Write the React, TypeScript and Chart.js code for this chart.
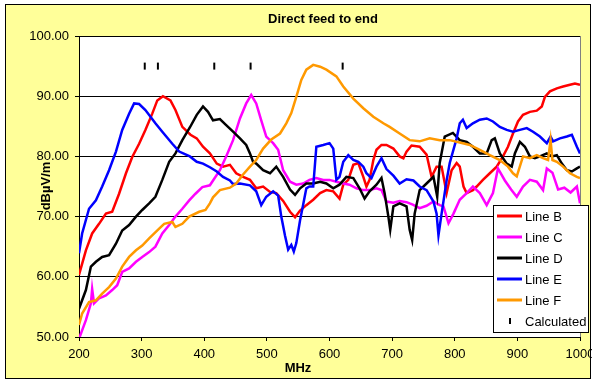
import React, { useEffect, useRef } from "react";
import { Chart, registerables } from "chart.js";

Chart.register(...registerables);

// ---- Data ----
const seriesNames = ["Line B", "Line C", "Line D", "Line E", "Line F"];
const seriesColors = ["#FF0000", "#FF00FF", "#000000", "#0000FF", "#FF9900"];

const bFreq = [200, 211, 221, 232, 243, 253, 264, 275, 285, 296, 306, 317, 325, 334, 346, 354, 365, 378, 388, 398, 409, 420, 430, 441, 451, 462, 473, 483, 494, 505, 515, 526, 537, 545, 553, 563, 574, 585, 595, 606, 616, 622, 630, 638, 646, 654, 659, 664, 670, 675, 683, 691, 702, 712, 718, 723, 731, 744, 755, 763, 771, 779, 787, 795, 803, 808, 814, 819, 829, 835, 845, 856, 867, 877, 885, 893, 901, 909, 920, 931, 939, 944, 952, 963, 973, 984, 992, 1000];
const bVals = [60.3, 64.4, 67.2, 68.8, 70.5, 70.8, 73.8, 77.2, 79.9, 82.1, 84.4, 87.1, 89.3, 90.0, 89.3, 87.7, 84.9, 83.6, 83.0, 81.6, 80.5, 78.8, 78.3, 78.6, 77.2, 76.6, 76.1, 74.7, 75.0, 74.1, 73.9, 72.6, 70.8, 69.9, 71.0, 71.9, 72.8, 73.9, 74.4, 74.2, 73.0, 75.3, 76.1, 78.6, 78.9, 76.6, 75.0, 76.1, 79.4, 81.1, 81.9, 81.9, 81.3, 80.0, 79.7, 80.8, 81.8, 81.6, 80.3, 76.6, 78.3, 78.3, 73.9, 77.7, 78.9, 78.3, 75.0, 73.9, 74.4, 75.0, 76.1, 77.2, 78.3, 80.0, 81.6, 83.8, 85.8, 86.9, 87.4, 87.6, 88.3, 89.9, 90.8, 91.3, 91.6, 91.9, 92.1, 91.9];

const cFreq = [200, 211, 219, 221, 224, 232, 243, 253, 261, 269, 280, 291, 301, 312, 322, 333, 344, 354, 365, 376, 386, 397, 409, 425, 435, 446, 457, 467, 475, 483, 491, 499, 510, 518, 526, 537, 547, 558, 568, 579, 590, 600, 611, 622, 632, 643, 654, 664, 675, 683, 691, 702, 712, 723, 733, 744, 755, 766, 776, 782, 790, 798, 808, 819, 829, 840, 851, 861, 869, 880, 890, 899, 909, 920, 931, 941, 947, 956, 965, 975, 985, 995, 1000];
const cVals = [49.7, 52.8, 55.6, 58.0, 55.6, 56.4, 56.9, 57.8, 58.6, 60.8, 61.4, 62.5, 63.3, 64.1, 65.0, 67.2, 68.6, 70.0, 71.3, 72.7, 73.8, 74.9, 75.2, 77.7, 80.0, 82.7, 86.3, 88.8, 90.2, 88.8, 86.0, 83.3, 82.2, 81.1, 77.7, 75.8, 75.3, 75.5, 76.1, 76.4, 76.1, 76.1, 75.8, 75.5, 75.3, 74.7, 74.4, 74.4, 74.7, 74.4, 72.5, 72.3, 72.6, 72.4, 72.0, 71.4, 71.8, 72.5, 71.9, 71.7, 68.9, 70.5, 72.8, 73.9, 75.0, 73.9, 71.9, 73.9, 78.0, 76.0, 74.5, 73.3, 75.0, 76.1, 75.8, 74.4, 78.0, 77.3, 74.5, 74.8, 74.0, 75.0, 72.2];

const dFreq = [200, 211, 219, 227, 237, 248, 259, 269, 280, 291, 301, 312, 322, 333, 344, 354, 365, 377, 388, 398, 406, 414, 425, 435, 446, 457, 467, 473, 478, 483, 494, 505, 515, 526, 537, 545, 553, 563, 574, 585, 595, 606, 616, 627, 638, 648, 656, 664, 675, 683, 688, 694, 697, 702, 712, 723, 728, 732, 736, 744, 755, 766, 772, 776, 784, 797, 808, 819, 829, 840, 851, 859, 864, 872, 883, 891, 896, 904, 912, 920, 928, 936, 947, 955, 963, 971, 979, 987, 995, 1000];
const dVals = [54.7, 57.8, 61.7, 62.5, 63.3, 63.6, 65.5, 67.7, 68.6, 70.0, 71.1, 72.2, 73.3, 76.1, 79.1, 80.5, 82.7, 84.8, 86.9, 88.3, 87.4, 86.0, 86.2, 85.2, 84.1, 83.0, 81.9, 80.5, 79.1, 78.8, 77.7, 77.2, 78.3, 76.6, 74.5, 73.6, 74.7, 75.5, 75.5, 75.8, 75.5, 74.7, 75.3, 76.6, 76.4, 74.7, 73.0, 74.2, 75.3, 76.4, 73.9, 70.0, 67.8, 71.7, 72.2, 71.7, 67.8, 66.1, 70.5, 74.4, 75.5, 76.6, 73.3, 78.9, 83.3, 83.9, 82.7, 82.4, 81.6, 80.5, 80.5, 82.7, 83.0, 80.5, 78.8, 78.3, 80.5, 82.4, 81.6, 80.0, 79.7, 80.0, 80.5, 80.0, 80.2, 78.8, 77.7, 77.5, 78.0, 78.3];

const eFreq = [200, 205, 216, 227, 237, 248, 259, 269, 280, 288, 296, 306, 322, 333, 349, 360, 377, 388, 398, 409, 420, 430, 441, 446, 457, 473, 483, 491, 499, 510, 518, 523, 529, 534, 539, 543, 547, 553, 558, 563, 568, 574, 579, 590, 600, 606, 611, 616, 622, 630, 638, 646, 654, 659, 667, 675, 683, 691, 702, 712, 723, 734, 744, 755, 766, 771, 774, 779, 787, 792, 803, 808, 813, 819, 829, 840, 851, 861, 872, 883, 893, 904, 915, 925, 936, 947, 953, 957, 968, 979, 987, 995, 1000];
const eVals = [63.9, 67.2, 71.3, 72.7, 75.0, 77.7, 80.8, 84.4, 87.1, 88.8, 88.7, 87.7, 85.5, 84.1, 82.1, 80.8, 80.0, 79.1, 78.8, 78.2, 77.5, 76.6, 76.0, 75.4, 75.5, 75.2, 74.2, 71.9, 73.3, 74.2, 73.5, 70.0, 66.8, 64.5, 65.3, 64.2, 65.6, 69.4, 72.0, 74.7, 75.0, 75.0, 81.6, 81.9, 82.2, 81.3, 76.1, 76.6, 79.1, 80.2, 79.4, 79.1, 78.3, 77.2, 76.4, 78.3, 79.7, 77.9, 76.8, 75.5, 76.2, 76.0, 75.0, 74.4, 72.5, 70.5, 66.9, 70.5, 76.0, 78.9, 83.0, 85.5, 86.1, 84.7, 85.5, 86.1, 86.3, 85.8, 84.9, 84.4, 84.1, 84.4, 84.7, 84.1, 83.3, 82.2, 83.3, 82.5, 83.0, 83.3, 83.6, 81.6, 80.5];

const fFreq = [200, 205, 216, 227, 237, 248, 259, 269, 280, 291, 301, 312, 328, 336, 349, 354, 365, 376, 392, 402, 409, 414, 425, 441, 451, 462, 473, 483, 494, 507, 521, 531, 539, 547, 555, 563, 574, 585, 595, 611, 622, 638, 654, 670, 686, 696, 712, 728, 744, 760, 776, 792, 808, 824, 840, 856, 872, 885, 893, 899, 909, 920, 931, 941, 949, 953, 956, 963, 973, 984, 995, 1000];
const fVals = [52.0, 53.9, 55.8, 56.1, 57.2, 58.3, 59.7, 61.7, 63.3, 64.4, 65.2, 66.4, 68.0, 68.8, 69.1, 68.3, 68.8, 70.0, 70.8, 71.1, 72.2, 73.2, 74.4, 74.8, 75.5, 77.0, 78.3, 79.4, 81.3, 82.8, 83.8, 85.5, 87.2, 89.9, 92.7, 94.4, 95.2, 94.9, 94.4, 93.3, 91.6, 89.6, 88.0, 86.6, 85.5, 84.9, 83.8, 82.7, 82.5, 83.0, 82.7, 82.7, 82.3, 81.9, 81.1, 80.2, 79.4, 78.3, 77.2, 76.7, 80.0, 79.7, 80.2, 79.7, 79.4, 82.7, 79.4, 79.1, 78.3, 77.2, 76.6, 76.4];

const calcName = "Calculated";
const calcFreq = [305, 326, 416, 474, 621];
const calcVals = [95, 95, 95, 95, 95];

const xTickValues = [200, 300, 400, 500, 600, 700, 800, 900, 1000];
const yTickValues = [50, 60, 70, 80, 90, 100];

const titleText = "Direct feed to end";
const xTitle = "MHz";
const yTitle = "dBµV/m";

const FONT = "'Liberation Sans', Arial, sans-serif";

const allFreq = [bFreq, cFreq, dFreq, eFreq, fFreq];
const allVals = [bVals, cVals, dVals, eVals, fVals];

const decorPlugin = {
  id: "decor",
  beforeDraw(chart: any) {
    const { ctx, chartArea: a } = chart;
    ctx.save();
    ctx.fillStyle = "#FFFFFF";
    ctx.fillRect(0, 0, chart.width, chart.height);
    ctx.fillStyle = "#FFFF99";
    ctx.fillRect(6, 5, 584, 374);
    ctx.strokeStyle = "#000000";
    ctx.lineWidth = 1;
    ctx.strokeRect(5.5, 4.5, 585, 374);
    ctx.fillStyle = "#FFFFFF";
    ctx.fillRect(a.left, a.top, a.right - a.left, a.bottom - a.top);
    ctx.restore();
  },
  afterDraw(chart: any) {
    const { ctx, chartArea: a } = chart;
    ctx.save();
    // right border of plot area
    ctx.strokeStyle = "#808080";
    ctx.lineWidth = 1;
    ctx.beginPath();
    ctx.moveTo(Math.round(a.right) + 0.5, a.top);
    ctx.lineTo(Math.round(a.right) + 0.5, a.bottom);
    ctx.stroke();

    // titles
    ctx.fillStyle = "#000000";
    ctx.textAlign = "center";
    ctx.textBaseline = "middle";
    ctx.font = `bold 13px ${FONT}`;
    ctx.fillText(titleText, 323, 19);
    ctx.fillText(xTitle, 298, 368);
    ctx.save();
    ctx.translate(46, 186);
    ctx.rotate(-Math.PI / 2);
    ctx.fillText(yTitle, 0, 0);
    ctx.restore();

    // legend
    const lx = 493, ly = 205, lw = 95, lh = 127;
    ctx.fillStyle = "#FFFFFF";
    ctx.fillRect(lx, ly, lw, lh);
    ctx.strokeStyle = "#000000";
    ctx.strokeRect(lx + 0.5, ly + 0.5, lw, lh);
    ctx.font = `13px ${FONT}`;
    ctx.textAlign = "left";
    ctx.textBaseline = "middle";
    chart.data.datasets.forEach((ds: any, i: number) => {
      const y = 216 + i * 21;
      if (ds.showLine === false) {
        ctx.strokeStyle = "#000000";
        ctx.lineWidth = 2;
        ctx.beginPath();
        ctx.moveTo(510, y - 3);
        ctx.lineTo(510, y + 3);
        ctx.stroke();
      } else {
        ctx.strokeStyle = ds.borderColor;
        ctx.lineWidth = 3;
        ctx.beginPath();
        ctx.moveTo(497, y);
        ctx.lineTo(522, y);
        ctx.stroke();
      }
      ctx.fillStyle = "#000000";
      ctx.fillText(ds.label, 525, y + 1);
    });
    ctx.restore();
  },
};

export default function App() {
  const ref = useRef<HTMLCanvasElement>(null);

  useEffect(() => {
    if (!ref.current) return;
    const lineSets = seriesNames.map((name, i) => ({
      label: name,
      data: allFreq[i].map((f, j) => ({ x: f, y: allVals[i][j] })),
      borderColor: seriesColors[i],
      backgroundColor: seriesColors[i],
      borderWidth: 2.5,
      pointRadius: 0,
      tension: 0,
      fill: false,
      order: seriesNames.length - i,
    }));
    const calcSet = {
      label: calcName,
      data: calcFreq.map((f, j) => ({ x: f, y: calcVals[j] })),
      showLine: false,
      borderColor: "#000000",
      backgroundColor: "#000000",
      borderWidth: 2,
      pointStyle: "line",
      rotation: 90,
      pointRadius: 3.5,
      order: 0,
    };
    const chart = new Chart(ref.current, {
      type: "line",
      data: { datasets: [...lineSets, calcSet] as any },
      options: {
        animation: false,
        responsive: false,
        devicePixelRatio: 1,
        layout: { padding: { top: 36, right: 12, left: 0, bottom: 0 } },
        plugins: {
          legend: { display: false },
          title: { display: false },
          tooltip: { enabled: false },
        },
        scales: {
          x: {
            type: "linear",
            min: 200,
            max: 1000,
            afterBuildTicks: (s: any) => {
              s.ticks = xTickValues.map((v) => ({ value: v }));
            },
            ticks: {
              font: { family: FONT, size: 13 },
              color: "#000000",
              padding: 6,
              maxRotation: 0,
              autoSkip: false,
              callback: (v: any) => String(v),
            },
            grid: { drawOnChartArea: false, tickLength: 4, color: "#000000" },
            border: { color: "#000000" },
            afterFit: (s: any) => {
              s.height = 43;
              s.paddingLeft = 0;
              s.paddingRight = 0;
            },
          },
          y: {
            min: 50,
            max: 100,
            afterBuildTicks: (s: any) => {
              s.ticks = yTickValues.map((v) => ({ value: v }));
            },
            ticks: {
              font: { family: FONT, size: 13 },
              color: "#000000",
              padding: 6,
              callback: (v: any) => Number(v).toFixed(2),
            },
            grid: { tickLength: 4, color: "#000000" },
            border: { color: "#000000" },
            afterFit: (s: any) => {
              s.width = 79;
              s.paddingTop = 0;
              s.paddingBottom = 0;
            },
          },
        },
      } as any,
      plugins: [decorPlugin],
    });
    return () => chart.destroy();
  }, []);

  return (
    <div style={{ position: "fixed", left: 0, top: 0, width: 592, height: 380 }}>
      <canvas ref={ref} width={592} height={380} style={{ display: "block" }} />
    </div>
  );
}
